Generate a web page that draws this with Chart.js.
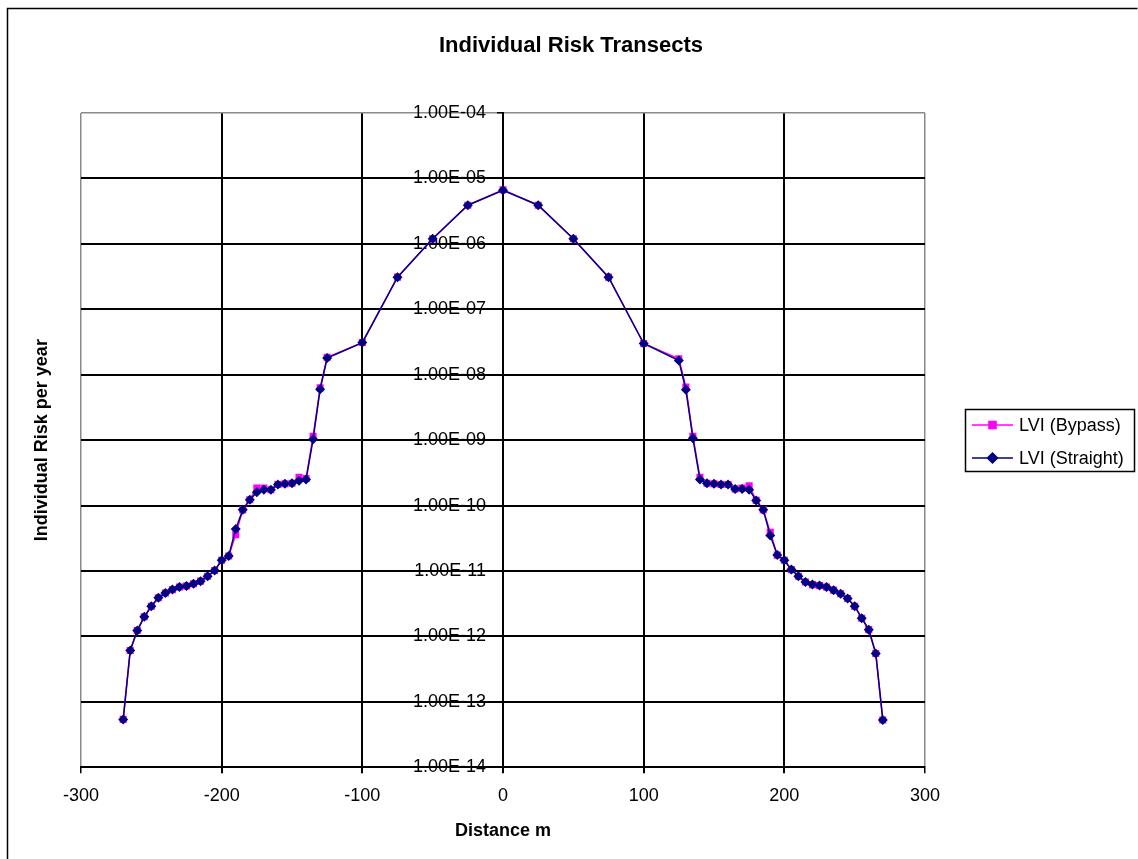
<!DOCTYPE html>
<html>
<head>
<meta charset="utf-8">
<script src="https://cdn.jsdelivr.net/npm/chart.js@4.4.1/dist/chart.umd.min.js"></script>
<style>
  html, body { margin: 0; padding: 0; background: #fff; }
  canvas { display: block; }
</style>
</head>
<body>
<canvas id="c" width="1138" height="859"></canvas>
<script>
// ---- Data ----
const distances = [
  -270, -265, -260, -255, -250, -245, -240, -235, -230, -225,
  -220, -215, -210, -205, -200, -195, -190, -185, -180, -175,
  -170, -165, -160, -155, -150, -145, -140, -135, -130, -125,
  -100, -75, -50, -25, 0, 25, 50, 75, 100,
  125, 130, 135, 140, 145, 150, 155, 160, 165, 170,
  175, 180, 185, 190, 195, 200, 205, 210, 215, 220,
  225, 230, 235, 240, 245, 250, 255, 260, 265, 270
];
const straightRisk = [
  5.4e-14, 6.1e-13, 1.23e-12, 2.0e-12, 2.9e-12, 3.9e-12, 4.6e-12, 5.2e-12, 5.7e-12, 5.9e-12,
  6.4e-12, 7.0e-12, 8.3e-12, 1.02e-11, 1.46e-11, 1.7e-11, 4.4e-11, 8.6e-11, 1.23e-10, 1.6e-10,
  1.75e-10, 1.75e-10, 2.1e-10, 2.15e-10, 2.2e-10, 2.4e-10, 2.5e-10, 1.03e-9, 6.0e-9, 1.8e-8,
  3.1e-8, 3.1e-7, 1.2e-6, 3.9e-6, 6.6e-6, 3.9e-6, 1.2e-6, 3.1e-7, 3.0e-8,
  1.65e-8, 5.9e-9, 1.07e-9, 2.5e-10, 2.2e-10, 2.15e-10, 2.1e-10, 2.1e-10, 1.8e-10, 1.8e-10,
  1.75e-10, 1.2e-10, 8.6e-11, 3.5e-11, 1.75e-11, 1.46e-11, 1.05e-11, 8.3e-12, 6.8e-12, 6.2e-12,
  6.0e-12, 5.7e-12, 5.1e-12, 4.5e-12, 3.8e-12, 2.9e-12, 1.9e-12, 1.27e-12, 5.5e-13, 5.3e-14
];
const bypassRisk = [
  5.4e-14, 6.1e-13, 1.23e-12, 2.0e-12, 2.9e-12, 3.9e-12, 4.6e-12, 5.2e-12, 5.7e-12, 5.9e-12,
  6.4e-12, 7.0e-12, 8.3e-12, 1.02e-11, 1.46e-11, 1.7e-11, 3.6e-11, 8.6e-11, 1.23e-10, 1.85e-10,
  1.85e-10, 1.75e-10, 2.1e-10, 2.15e-10, 2.2e-10, 2.7e-10, 2.6e-10, 1.15e-9, 6.3e-9, 1.85e-8,
  3.1e-8, 3.1e-7, 1.2e-6, 3.9e-6, 6.7e-6, 3.9e-6, 1.2e-6, 3.1e-7, 3.0e-8,
  1.75e-8, 6.5e-9, 1.15e-9, 2.7e-10, 2.2e-10, 2.15e-10, 2.1e-10, 2.1e-10, 1.8e-10, 1.85e-10,
  2.0e-10, 1.2e-10, 8.6e-11, 3.9e-11, 1.75e-11, 1.46e-11, 1.05e-11, 8.3e-12, 6.8e-12, 6.2e-12,
  6.0e-12, 5.7e-12, 5.1e-12, 4.5e-12, 3.8e-12, 2.9e-12, 1.9e-12, 1.27e-12, 5.5e-13, 5.3e-14
];
const seriesNames = ['LVI (Bypass)', 'LVI (Straight)'];
const xTicks = [-300, -200, -100, 0, 100, 200, 300];
const yTicks = [1e-4, 1e-5, 1e-6, 1e-7, 1e-8, 1e-9, 1e-10, 1e-11, 1e-12, 1e-13, 1e-14];
const chartTitle = 'Individual Risk Transects';
const xTitle = 'Distance m';
const yTitle = 'Individual Risk per year';

// ---- Styles ----
const PINK = '#FF00FF';
const NAVY = '#000080';
const FONT = "'Liberation Sans', Arial, sans-serif";

function fmtExp(v) {
  const s = Number(v).toExponential(2).toUpperCase();
  return s.replace(/E([+-])(\d)$/, 'E$10$2');
}

const toPts = (ys) => distances.map((d, i) => ({ x: d, y: ys[i] }));

const decoPlugin = {
  id: 'deco',
  beforeDraw(chart) {
    const c = chart.ctx;
    c.save();
    c.fillStyle = '#fff';
    c.fillRect(0, 0, chart.width, chart.height);
    c.restore();
  },
  afterDraw(chart) {
    const c = chart.ctx;
    const area = chart.chartArea;
    c.save();
    // outer frame
    c.strokeStyle = '#000';
    c.lineWidth = 1.5;
    c.beginPath();
    c.moveTo(7.5, 870);
    c.lineTo(7.5, 8.5);
    c.lineTo(1137.5, 8.5);
    c.stroke();
    // chart title
    c.fillStyle = '#000';
    c.font = 'bold 22px ' + FONT;
    c.textAlign = 'center';
    c.textBaseline = 'middle';
    c.fillText(chartTitle, 571, 46);
    // y title
    c.font = 'bold 18px ' + FONT;
    c.translate(42, (area.top + area.bottom) / 2);
    c.rotate(-Math.PI / 2);
    c.fillText(yTitle, 0, 0);
    c.restore();

    // legend
    c.save();
    const bx = 965.5, by = 409.5, bw = 169, bh = 62;
    c.strokeStyle = '#000';
    c.lineWidth = 1.5;
    c.strokeRect(bx, by, bw, bh);
    const rows = [
      { y: 425, color: PINK, style: 'rect', r: 5, name: seriesNames[0] },
      { y: 458, color: NAVY, style: 'rectRot', r: 5, name: seriesNames[1] }
    ];
    rows.forEach(row => {
      c.strokeStyle = row.color;
      c.lineWidth = 1.5;
      c.beginPath();
      c.moveTo(972, row.y);
      c.lineTo(1013, row.y);
      c.stroke();
      c.fillStyle = row.color;
      Chart.helpers.drawPoint(c, { pointStyle: row.style, radius: row.r, rotation: 0, borderWidth: 1 }, 992.5, row.y);
      c.fill();
      c.fillStyle = '#000';
      c.font = '18px ' + FONT;
      c.textAlign = 'left';
      c.textBaseline = 'middle';
      c.fillText(row.name, 1019, row.y + 1);
    });
    c.restore();
  }
};

new Chart(document.getElementById('c'), {
  type: 'scatter',
  data: {
    datasets: [
      {
        label: seriesNames[0],
        data: toPts(bypassRisk),
        showLine: true,
        borderColor: PINK,
        backgroundColor: PINK,
        borderWidth: 1.5,
        pointStyle: 'rect',
        pointRadius: 5,
        pointBorderWidth: 0,
        pointBackgroundColor: PINK,
        order: 2
      },
      {
        label: seriesNames[1],
        data: toPts(straightRisk),
        showLine: true,
        borderColor: NAVY,
        backgroundColor: NAVY,
        borderWidth: 1.5,
        pointStyle: 'rectRot',
        pointRadius: 5,
        pointBorderWidth: 0,
        pointBackgroundColor: NAVY,
        order: 1
      }
    ]
  },
  options: {
    responsive: false,
    animation: false,
    devicePixelRatio: 1,
    layout: { padding: { left: 81, right: 213, top: 113, bottom: 17 } },
    plugins: {
      legend: { display: false },
      tooltip: { enabled: false },
      title: { display: false }
    },
    scales: {
      x: {
        type: 'linear',
        min: -300,
        max: 300,
        afterBuildTicks: (s) => { s.ticks = xTicks.map(v => ({ value: v })); },
        grid: {
          color: (ctx) => (ctx.tick && Math.abs(ctx.tick.value) === 300) ? '#8a8a8a' : '#000',
          lineWidth: (ctx) => (ctx.tick && Math.abs(ctx.tick.value) === 300) ? 1.5 : 2,
          drawTicks: true,
          tickLength: 6,
          tickColor: '#000'
        },
        border: { display: true, color: '#000', width: 2 },
        ticks: {
          color: '#000',
          padding: 12,
          maxRotation: 0,
          autoSkip: false,
          font: { family: FONT, size: 18 },
          callback: (v) => String(v)
        },
        title: {
          display: true,
          text: xTitle,
          color: '#000',
          font: { family: FONT, size: 18, weight: 'bold' },
          padding: { top: 1.5, bottom: 0 }
        }
      },
      y: {
        type: 'logarithmic',
        position: 'center',
        min: 1e-14,
        max: 1e-4,
        afterBuildTicks: (s) => { s.ticks = yTicks.map(v => ({ value: v })); },
        grid: {
          color: (ctx) => (ctx.tick && ctx.tick.value === 1e-4) ? '#8a8a8a' : '#000',
          lineWidth: (ctx) => (ctx.tick && ctx.tick.value === 1e-4) ? 1.5 : 2,
          drawTicks: true,
          tickLength: 5,
          tickColor: '#000'
        },
        border: { display: true, color: '#000', width: 2 },
        ticks: {
          color: '#000',
          padding: 12,
          autoSkip: false,
          font: { family: FONT, size: 18 },
          callback: (v) => fmtExp(v)
        }
      }
    }
  },
  plugins: [decoPlugin]
});
</script>
</body>
</html>
